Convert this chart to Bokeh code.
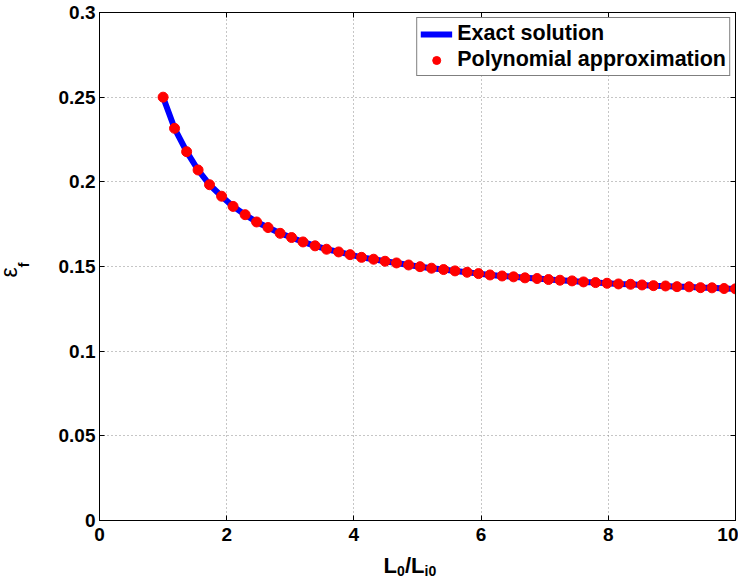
import math
from bokeh.plotting import figure
from bokeh.models import (Range1d, FixedTicker, LinearAxis, Label, Legend, LegendItem,
                          ColumnDataSource, CustomJSTickFormatter)
from bokeh.embed import file_html
from bokeh.resources import INLINE

# ---- data ----
ratio = [1.00, 1.18, 1.37, 1.55, 1.73, 1.92, 2.10, 2.29, 2.47, 2.65,
         2.84, 3.02, 3.20, 3.39, 3.57, 3.76, 3.94, 4.12, 4.31, 4.49,
         4.67, 4.86, 5.04, 5.22, 5.41, 5.59, 5.78, 5.96, 6.14, 6.33,
         6.51, 6.69, 6.88, 7.06, 7.24, 7.43, 7.61, 7.80, 7.98, 8.16,
         8.35, 8.53, 8.71, 8.90, 9.08, 9.27, 9.45, 9.63, 9.82, 10.00]
eps_exact = [0.2500, 0.2316, 0.2178, 0.2070, 0.1983, 0.1915, 0.1855, 0.1806, 0.1763, 0.1730,
             0.1696, 0.1671, 0.1645, 0.1622, 0.1602, 0.1586, 0.1570, 0.1554, 0.1543, 0.1531,
             0.1521, 0.1509, 0.1499, 0.1490, 0.1482, 0.1474, 0.1466, 0.1458, 0.1450, 0.1444,
             0.1439, 0.1433, 0.1429, 0.1423, 0.1419, 0.1415, 0.1409, 0.1405, 0.1401, 0.1397,
             0.1395, 0.1391, 0.1387, 0.1385, 0.1381, 0.1380, 0.1375, 0.1374, 0.1370, 0.1368]
eps_poly = list(eps_exact)

x_ticks = [0, 2, 4, 6, 8, 10]
x_tick_labels = ["0", "2", "4", "6", "8", "10"]
y_ticks = [0, 0.05, 0.1, 0.15, 0.2, 0.25, 0.3]
y_tick_labels = ["0", "0.05", "0.1", "0.15", "0.2", "0.25", "0.3"]
series_names = ["Exact solution", "Polynomial approximation"]

FONT = "Liberation Sans"

p = figure(width=738, height=576, output_backend="svg", toolbar_location=None,
           x_range=Range1d(0, 10), y_range=Range1d(0, 0.3),
           min_border_left=99, min_border_right=3, min_border_top=12, min_border_bottom=56)
p.outline_line_color = "black"
p.outline_line_width = 1
p.background_fill_color = "white"
p.border_fill_color = "white"

# grid
for g in (p.xgrid, p.ygrid):
    g.grid_line_color = "#8c8c8c"
    g.grid_line_dash = "1 3"
    g.grid_line_width = 1
p.xgrid.ticker = FixedTicker(ticks=x_ticks)
p.ygrid.ticker = FixedTicker(ticks=y_ticks)

def style_axis(ax, ticks, labels, show_labels=True):
    ax.ticker = FixedTicker(ticks=ticks)
    ax.major_tick_in = 5
    ax.major_tick_out = 0
    ax.minor_tick_line_color = None
    ax.major_tick_line_color = "black"
    ax.axis_line_color = "black"
    ax.major_label_text_font = FONT
    ax.major_label_text_font_style = "bold"
    ax.major_label_text_color = "black"
    if show_labels:
        ax.major_label_overrides = {t: l for t, l in zip(ticks, labels)}
        ax.major_label_text_font_size = "19px"
        ax.major_label_standoff = 5
    else:
        ax.formatter = CustomJSTickFormatter(code="return ''")
        ax.major_label_text_font_size = "1px"
        ax.major_label_standoff = 0

style_axis(p.xaxis[0], x_ticks, x_tick_labels)
style_axis(p.yaxis[0], y_ticks, y_tick_labels)
p.xaxis[0].major_label_standoff = 7
p.yaxis[0].major_label_standoff = 4

top_ax = LinearAxis()
style_axis(top_ax, x_ticks, x_tick_labels, show_labels=False)
p.add_layout(top_ax, "above")
right_ax = LinearAxis()
style_axis(right_ax, y_ticks, y_tick_labels, show_labels=False)
p.add_layout(right_ax, "right")

src = ColumnDataSource(dict(x=ratio, exact=eps_exact, poly=eps_poly))
r_line = p.line("x", "exact", source=src, line_color="#0000ff", line_width=6)
r_pts = p.scatter("x", "poly", source=src, marker="circle", size=10,
                  fill_color="#ff0000", line_color="#ff0000")

legend = Legend(items=[LegendItem(label=series_names[0], renderers=[r_line]),
                       LegendItem(label=series_names[1], renderers=[r_pts])],
                location="top_right")
legend.label_text_font = FONT
legend.label_text_font_style = "bold"
legend.label_text_font_size = "21.5px"
legend.label_text_color = "black"
legend.label_height = 20
legend.glyph_height = 20
legend.glyph_width = 32
legend.label_standoff = 5
legend.spacing = 1
legend.padding = 3
legend.margin = 5
legend.border_line_color = "black"
legend.border_line_width = 1
legend.background_fill_alpha = 1
p.add_layout(legend, "center")

# labels anchored at the data origin (0, 0), offset in screen pixels;
# placed in side panels so they are not clipped to the plot frame
def lab(text, dx, dy, size, side, angle=0.0, style="bold"):
    p.add_layout(Label(x=0, y=0, x_units="data", y_units="data",
                       x_offset=dx, y_offset=dy, text=text,
                       text_font=FONT, text_font_style=style, text_font_size=size,
                       text_color="black", text_align="left", text_baseline="alphabetic",
                       angle=angle, angle_units="rad"), side)

# x-axis label L0/Li0
lab("L", 284, -45, "22px", "left")
lab("0", 297.5, -50, "14px", "left")
lab("/", 305.5, -45, "22px", "left")
lab("L", 311.5, -45, "22px", "left")
lab("i0", 325, -50, "14px", "left")

# y-axis label epsilon_f (rotated)
lab("\u03b5", -91, 243, "23px", "below", angle=math.pi / 2, style="normal")
lab("f", -76, 253, "15px", "below", angle=math.pi / 2)

open("out.html", "w").write(file_html(p, INLINE))
